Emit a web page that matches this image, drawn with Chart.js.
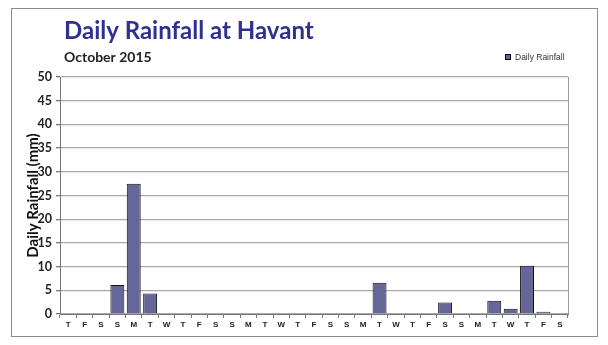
<!DOCTYPE html>
<html>
<head>
<meta charset="utf-8">
<script src="https://cdn.jsdelivr.net/npm/chart.js@4/dist/chart.umd.min.js"></script>
<style>
html,body{margin:0;padding:0;background:#fff;}
#wrap{width:608px;height:345px;position:relative;}
</style>
</head>
<body>
<div id="wrap"><canvas id="c" width="608" height="345"></canvas></div>
<script>
const chartTitle = "Daily Rainfall at Havant";
const chartSubtitle = "October 2015";
const seriesName = "Daily Rainfall";
const yAxisTitle = "Daily Rainfall (mm)";
const dayLabels = ["T","F","S","S","M","T","W","T","F","S","S","M","T","W","T","F","S","S","M","T","W","T","F","S","S","M","T","W","T","F","S"];
const rainfall = [0,0,0,6.1,27.5,4.3,0,0,0,0,0,0,0,0,0,0,0,0,0,6.6,0,0,0,2.4,0,0,2.8,1.1,10.2,0.5,0];
const yMin = 0, yMax = 50, yStep = 5;

const decor = {
  id: 'decor',
  afterDraw(chart) {
    const ctx = chart.ctx;
    const a = chart.chartArea;
    ctx.save();
    ctx.strokeStyle = '#8c8c8c';
    ctx.lineWidth = 1;
    ctx.strokeRect(11.5, 8.5, 586, 328);
    ctx.strokeStyle = '#9a9a9a';
    ctx.beginPath();
    ctx.moveTo(Math.round(a.right) + 0.5, a.top);
    ctx.lineTo(Math.round(a.right) + 0.5, a.bottom);
    ctx.stroke();
    ctx.textBaseline = 'alphabetic';
    ctx.textAlign = 'left';
    ctx.fillStyle = '#2e3192';
    ctx.font = 'bold 24px Lato';
    ctx.fillText(chartTitle, 64, 39);
    ctx.fillStyle = '#222222';
    ctx.font = 'bold 14px Lato';
    ctx.fillText(chartSubtitle, 64, 62);
    ctx.fillStyle = '#666699';
    ctx.fillRect(505, 54, 6, 6);
    ctx.strokeStyle = '#000';
    ctx.strokeRect(505.5, 54.5, 5, 5);
    ctx.fillStyle = '#333';
    ctx.font = '8.5px "Liberation Sans"';
    ctx.textBaseline = 'middle';
    ctx.fillText(seriesName, 515, 57.5);
    ctx.restore();
  }
};

new Chart(document.getElementById('c'), {
  type: 'bar',
  data: {
    labels: dayLabels,
    datasets: [{
      label: seriesName,
      data: rainfall,
      backgroundColor: '#666699',
      borderColor: '#111111',
      borderWidth: 1,
      barPercentage: 0.85,
      categoryPercentage: 1.0
    }]
  },
  options: {
    responsive: false,
    animation: false,
    devicePixelRatio: 1,
    layout: { padding: { left: 24, right: 40, top: 77, bottom: 11 } },
    plugins: {
      legend: { display: false },
      title: { display: false },
      tooltip: { enabled: false }
    },
    scales: {
      x: {
        offset: true,
        grid: { offset: true, drawOnChartArea: false, drawTicks: true, tickLength: 4, color: '#777', tickColor: '#777' },
        border: { color: '#777', width: 1 },
        ticks: { color: '#222', font: { family: '"Liberation Sans"', size: 8, weight: 'bold' }, padding: 2, maxRotation: 0, autoSkip: false },
        afterFit(scale) { scale.height = 20; }
      },
      y: {
        min: yMin, max: yMax,
        ticks: { stepSize: yStep, color: '#222', font: { family: 'Lato', size: 12.5, weight: 'bold' }, padding: 4 },
        grid: { color: '#a8a8a8', lineWidth: 1.3, tickLength: 4, tickColor: '#777' },
        border: { color: '#777', width: 1 },
        title: { display: true, text: yAxisTitle, color: '#111', font: { family: 'Lato', size: 15, weight: 'bold' }, padding: { top: 0, bottom: 0 } },
        afterFit(scale) { scale.width = 36; }
      }
    }
  },
  plugins: [decor]
});
</script>
</body>
</html>
